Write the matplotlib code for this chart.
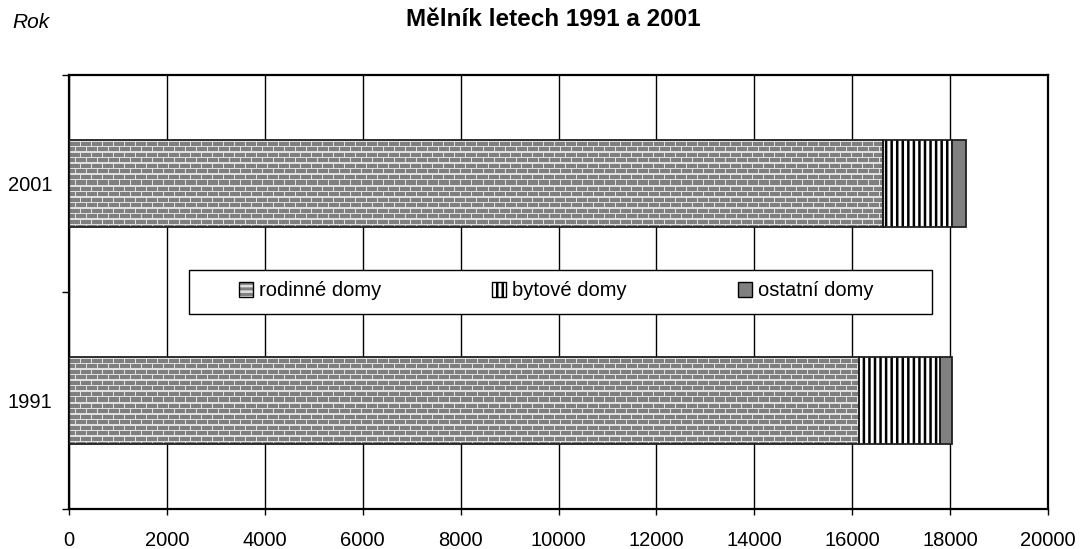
import numpy as np
import matplotlib
matplotlib.use('Agg')
import matplotlib.pyplot as plt
from matplotlib.patches import Patch, Rectangle

plt.rcParams['font.family'] = ['Liberation Sans', 'DejaVu Sans']

# data
years = ['1991', '2001']
rodinne = [16140, 16630]
bytove = [1650, 1410]
ostatni = [250, 280]
labels = ['rodinné domy', 'bytové domy', 'ostatní domy']

W, H = 1081, 549
fig = plt.figure(figsize=(W / 100, H / 100), dpi=100)
ax = fig.add_axes([69 / W, 40 / H, 979 / W, 434 / H])

y = np.arange(len(years))
bh = 0.4


def brick_texture(h, w):
    # grey brick pattern like the Excel fill
    img = np.full((h, w, 3), 0.5)
    for r in range(h):
        row = int(r / 5.5)
        if r - row * 5.5 < 1.2:
            img[r, :, :] = 0.88
            continue
        off = 0 if row % 2 == 0 else 5
        for c in range(w):
            if (c + off) % 11 == 0:
                img[r, c, :] = 0.88
    return img


px_per_unit = 979 / 20000
for i in range(len(years)):
    b = ax.barh(y[i], rodinne[i], height=bh, color='#808080', lw=0, zorder=2)[0]
    tex = brick_texture(int(bh * 217), int(rodinne[i] * px_per_unit))
    im = ax.imshow(tex, extent=(0, rodinne[i], y[i] - bh / 2, y[i] + bh / 2),
                   aspect='auto', interpolation='nearest', zorder=2.5)
    im.set_clip_path(b)

plt.rcParams['hatch.linewidth'] = 1.8
left2 = np.array(rodinne)
ax.barh(y, bytove, left=left2, height=bh, color='white', edgecolor='black',
        hatch='|||', lw=0, zorder=3)
left3 = left2 + np.array(bytove)
ax.barh(y, ostatni, left=left3, height=bh, color='#808080', lw=0, zorder=3)

# outlines
for vals, lefts in [(rodinne, 0), (bytove, left2), (ostatni, left3)]:
    ax.barh(y, vals, left=lefts, height=bh, fill=False, edgecolor='#202020',
            lw=1.3, zorder=4)

ax.set_xlim(0, 20000)
ax.set_ylim(-0.5, 1.5)
ax.set_xticks(np.arange(0, 20001, 2000))
ax.tick_params(axis='x', labelsize=14.5, length=4, width=1, pad=12, direction='out')
ax.set_yticks([-0.5, 0.5, 1.5])
ax.set_yticklabels([])
ax.set_yticks(y, minor=True)
ax.set_yticklabels(years, minor=True)
ax.tick_params(axis='y', which='major', length=5, width=1, direction='out')
ax.tick_params(axis='y', which='minor', length=0, labelsize=14.5, pad=12)
ax.grid(axis='x', color='black', lw=1, zorder=1)
ax.set_axisbelow(True)
for s in ax.spines.values():
    s.set_linewidth(1.6)

fig.text(553 / W, 1 - 19 / H, 'Mělník letech 1991 a 2001', ha='center', va='center',
         fontsize=17.5, fontweight='bold')
fig.text(12 / W, 1 - 23 / H, 'Rok', ha='left', va='center', fontsize=15, style='italic')

# legend box
box = Rectangle((189 / W, 1 - 314 / H), (932 - 189) / W, 44 / H,
                transform=fig.transFigure, facecolor='white', edgecolor='black',
                lw=1, zorder=5, clip_on=False)
ax.add_patch(box)

h1 = (Patch(facecolor='#808080', edgecolor='#e0e0e0', hatch='---', lw=0),
      Patch(fill=False, edgecolor='black', lw=1))
h2 = (Patch(facecolor='white', edgecolor='black', hatch='|||', lw=0),
      Patch(fill=False, edgecolor='black', lw=1))
h3 = Patch(facecolor='#808080', edgecolor='black', lw=1)
leg = ax.legend([h1, h2, h3], labels, ncol=3, frameon=False, fontsize=14.5,
                loc='center', bbox_to_anchor=(556 / W, 1 - 291 / H),
                bbox_transform=fig.transFigure, handlelength=0.7,
                handleheight=0.7, handletextpad=0.3, columnspacing=5.5)
leg.set_zorder(6)

fig.savefig('out.png', dpi=100)
